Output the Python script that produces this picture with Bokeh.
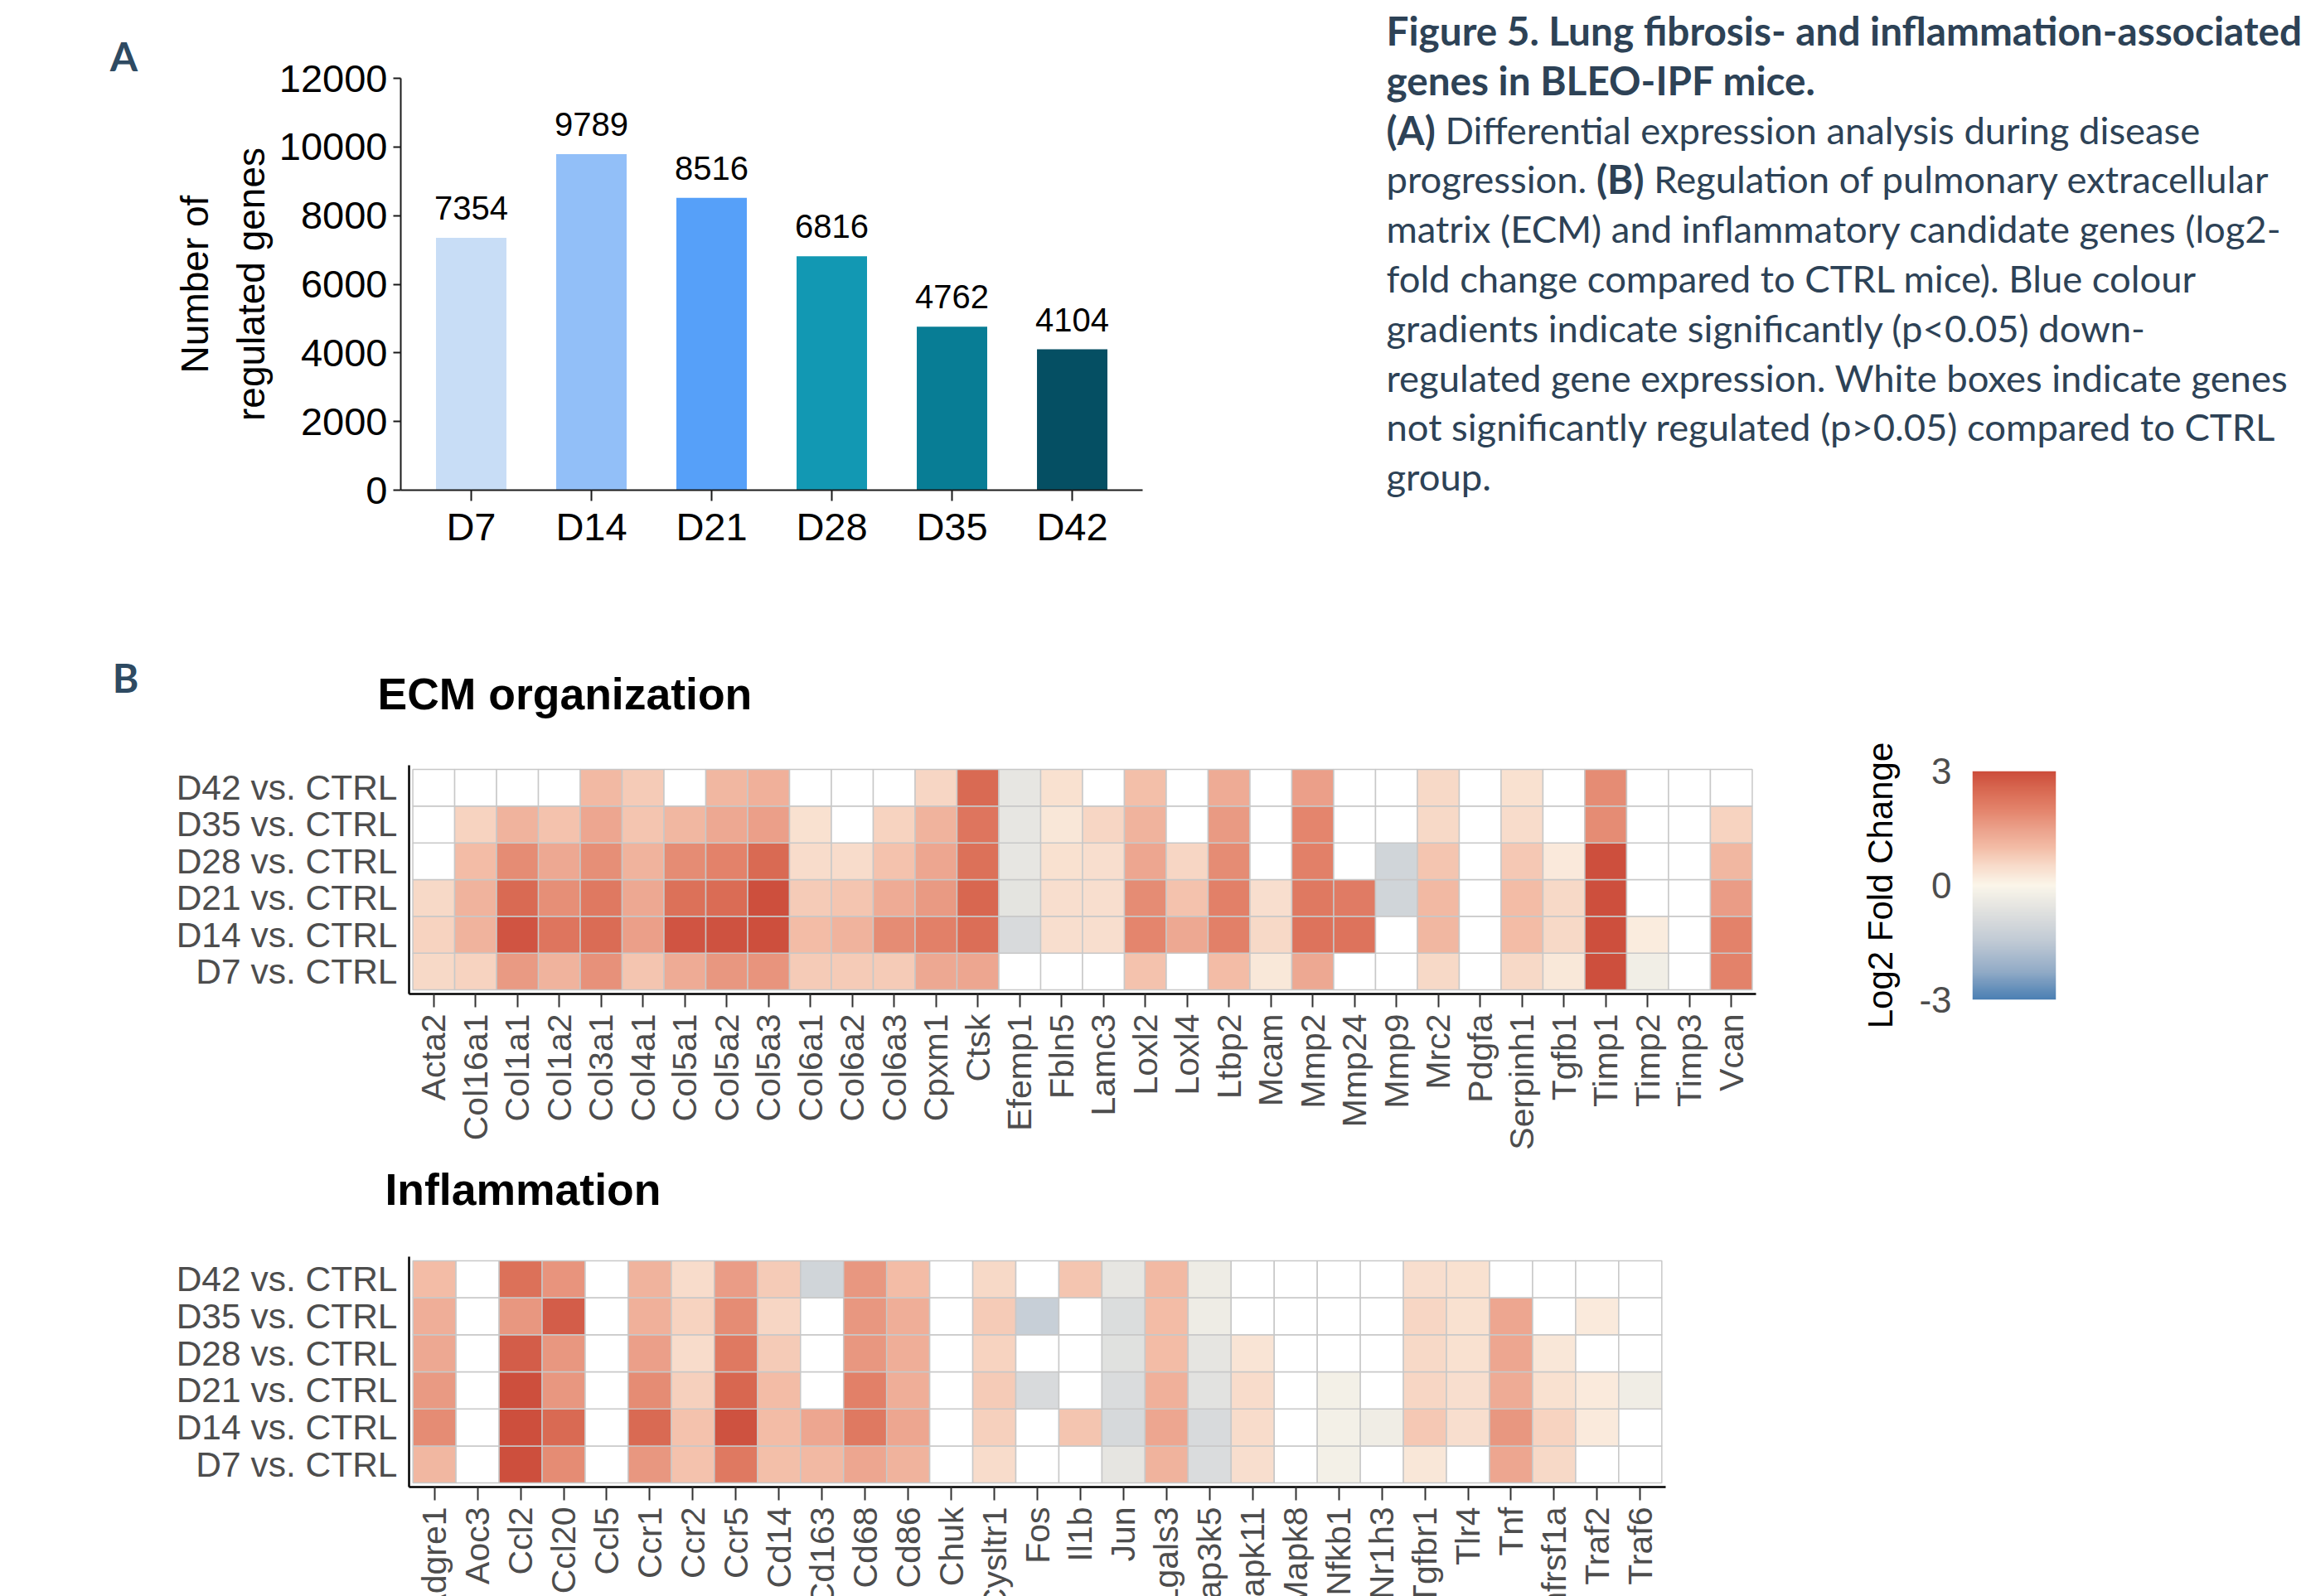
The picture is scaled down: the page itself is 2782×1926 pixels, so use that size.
import subprocess

import numpy as np
from bokeh.core.properties import value
from bokeh.embed import file_html
from bokeh.layouts import column, row
from bokeh.models import (ColumnDataSource, FactorRange, FixedTicker, Label,
                          LabelSet, LinearColorMapper, Range1d)
from bokeh.plotting import figure
from bokeh.resources import INLINE

N = None  # not significantly regulated (drawn as a white box)

# ---------------- Panel A: number of regulated genes ----------------
DAYS = ["D7", "D14", "D21", "D28", "D35", "D42"]
REGULATED_GENES = [7354, 9789, 8516, 6816, 4762, 4104]
BAR_COLORS = ["#c8ddf6", "#92bff8", "#56a0f9", "#1298b3", "#087d95", "#054f63"]
Y_TICKS = [0, 2000, 4000, 6000, 8000, 10000, 12000]

# ---------------- Panel B: log2 fold change heatmaps ----------------
COMPARISONS = ["D7 vs. CTRL", "D14 vs. CTRL", "D21 vs. CTRL",
               "D28 vs. CTRL", "D35 vs. CTRL", "D42 vs. CTRL"]

ECM_GENES = ["Acta2", "Col16a1", "Col1a1", "Col1a2", "Col3a1", "Col4a1", "Col5a1",
             "Col5a2", "Col5a3", "Col6a1", "Col6a2", "Col6a3", "Cpxm1", "Ctsk",
             "Efemp1", "Fbln5", "Lamc3", "Loxl2", "Loxl4", "Ltbp2", "Mcam", "Mmp2",
             "Mmp24", "Mmp9", "Mrc2", "Pdgfa", "Serpinh1", "Tgfb1", "Timp1", "Timp2",
             "Timp3", "Vcan"]
ECM_D42 = [N, N, N, N, 1.05, .75, N, 1.1, 1.2, N, N, N, .6, 2.5, -.5, .4,
           N, .95, N, 1.3, N, 1.5, N, N, .55, N, .4, N, 1.85, N, N, N]
ECM_D35 = [N, .65, 1.15, .9, 1.4, .85, 1.1, 1.35, 1.5, .4, N, .65, 1.15, 2.25, -.5, .3,
           .6, 1.15, N, 1.6, N, 1.95, N, N, .55, N, .5, N, 1.85, N, N, .65]
ECM_D28 = [N, 1.0, 1.85, 1.35, 1.8, 1.15, 1.85, 2.0, 2.5, .5, .5, .9, 1.4, 2.35, -.5, .4,
           .45, 1.4, .6, 1.85, N, 2.05, N, -1.1, .85, N, .8, .25, 2.95, N, N, 1.1]
ECM_D21 = [.55, 1.15, 2.5, 1.8, 2.2, 1.35, 2.35, 2.45, 2.95, .75, .85, 1.3, 1.6, 2.55, -.6, .45,
           .45, 1.85, .9, 2.05, .45, 2.2, 2.15, -1.1, 1.05, N, 1.0, .55, 2.95, N, N, 1.55]
ECM_D14 = [.65, 1.15, 2.85, 2.25, 2.45, 1.5, 2.85, 2.9, 2.95, 1.0, 1.15, 1.85, 2.05, 2.4, -.9, .45,
           .45, 1.95, 1.35, 2.05, .55, 2.3, 2.3, N, 1.1, N, 1.0, .55, 2.95, .2, N, 2.0]
ECM_D7 = [.55, .65, 1.6, 1.15, 1.75, .85, 1.3, 1.65, 1.7, .75, .75, .75, 1.35, 1.4, N, N,
          N, .9, N, 1.0, .28, 1.35, N, N, .55, N, .55, .28, 2.95, -.25, N, 2.0]

INF_GENES = ["Adgre1", "Aoc3", "Ccl2", "Ccl20", "Ccl5", "Ccr1", "Ccr2", "Ccr5", "Cd14",
             "Cd163", "Cd68", "Cd86", "Chuk", "Cysltr1", "Fos", "Il1b", "Jun", "Lgals3",
             "Map3k5", "Mapk11", "Mapk8", "Nfkb1", "Nr1h3", "Tgfbr1", "Tlr4", "Tnf",
             "Tnfrsf1a", "Traf2", "Traf6"]
INF_D42 = [1.0, N, 2.35, 1.7, N, 1.15, .5, 1.55, .75, -1.1, 1.65, 1.0, N, .55, N,
           .85, -.5, 1.05, -.35, N, N, N, N, .45, .4, N, N, N, N]
INF_D35 = [1.25, N, 1.65, 2.7, N, 1.2, .65, 1.85, .6, N, 1.65, 1.25, N, .75, -1.3,
           N, -.8, 1.0, -.35, N, N, N, N, .6, .4, 1.4, N, .22, N]
INF_D28 = [1.35, N, 2.7, 1.65, N, 1.5, .5, 2.2, .75, N, 1.65, 1.25, N, .65, N,
           N, -.7, 1.0, -.55, .35, N, N, N, .55, .4, 1.4, .3, N, N]
INF_D21 = [1.6, N, 2.95, 1.65, N, 1.85, .7, 2.55, 1.0, N, 2.05, 1.25, N, .75, -.9,
           N, -.85, 1.2, -.65, .5, N, -.2, N, .6, .45, 1.3, .4, .22, -.3]
INF_D14 = [1.85, N, 2.95, 2.5, N, 2.5, .9, 2.9, 1.0, 1.4, 2.2, 1.4, N, .7, N,
           .85, -.95, 1.4, -.9, .5, N, -.2, -.3, .8, .45, 1.65, .65, .22, N]
INF_D7 = [1.1, N, 2.95, 1.85, N, 1.65, .9, 2.2, .95, 1.05, 1.4, 1.15, N, .5, N,
          N, -.55, 1.15, -.85, .45, N, -.2, N, .3, N, 1.4, .55, N, N]

ECM_LFC = dict(zip(COMPARISONS, [ECM_D7, ECM_D14, ECM_D21, ECM_D28, ECM_D35, ECM_D42]))
INF_LFC = dict(zip(COMPARISONS, [INF_D7, INF_D14, INF_D21, INF_D28, INF_D35, INF_D42]))

CB_TICKS = [-3, 0, 3]

CAPTION = [
    [("Figure 5. Lung fibrosis- and inflammation-associated", True)],
    [("genes in BLEO-IPF mice.", True)],
    [("(A)", True), (" Differential expression analysis during disease", False)],
    [("progression. ", False), ("(B)", True), (" Regulation of pulmonary extracellular", False)],
    [("matrix (ECM) and inflammatory candidate genes (log2-", False)],
    [("fold change compared to CTRL mice). Blue colour", False)],
    [("gradients indicate significantly (p<0.05) down-", False)],
    [("regulated gene expression. White boxes indicate genes", False)],
    [("not significantly regulated (p>0.05) compared to CTRL", False)],
    [("group.", False)],
]

FONT = "Liberation Sans"
CAPTION_FONT = "Lato"
CAPTION_COLOR = "#2d4256"
PANEL_COLOR = "#2e4a62"
LABEL_GREY = "#4d4d4d"
LABEL_LIFT = 18  # baseline correction for free text labels, px

# ---------------- diverging colour scale (-3 .. 3) ----------------
COLOR_STOPS = [(-3.0, "#4a7fb3"), (-2.25, "#93acc7"), (-1.5, "#bfc9d4"), (-0.75, "#dedfde"),
               (0.0, "#fbf6ea"), (0.5, "#f8dccb"), (1.0, "#f3bca6"), (1.5, "#eba08a"),
               (2.0, "#e3836b"), (2.5, "#d96a53"), (3.0, "#cc4c3b")]


def _rgb(h):
    return np.array([int(h[i:i + 2], 16) for i in (1, 3, 5)], dtype=float)


def build_palette(n=256):
    xs = np.array([s for s, _ in COLOR_STOPS])
    cs = np.array([_rgb(c) for _, c in COLOR_STOPS])
    out = []
    for v in np.linspace(-3, 3, n):
        rgb = [np.interp(v, xs, cs[:, k]) for k in range(3)]
        out.append("#%02x%02x%02x" % tuple(int(round(c)) for c in rgb))
    return out


MAPPER = LinearColorMapper(palette=build_palette(), low=-3, high=3, nan_color="white")


def base_fig(**kw):
    p = figure(output_backend="svg", toolbar_location=None, tools="", **kw)
    if "frame_align" in p.properties():
        p.frame_align = False
    p.grid.visible = False
    p.outline_line_color = None
    p.background_fill_color = "white"
    p.border_fill_color = "white"
    return p


def text_strip(width, height):
    """A blank figure whose frame is the whole canvas, used to hold free text."""
    return base_fig(width=width, height=height, min_border=0, x_axis_location=None,
                    y_axis_location=None, x_range=Range1d(0, width), y_range=Range1d(0, height))


def put_text(p, text, x, y, size, font=FONT, bold=False, color="black", align="left"):
    p.add_layout(Label(x=x, y=y + LABEL_LIFT, x_units="screen", y_units="screen", text=text,
                       text_align=align, text_baseline="alphabetic", text_font=font,
                       text_font_size=size, text_font_style="bold" if bold else "normal",
                       text_color=color))


# ---------------- Panel A ----------------
strip_a = text_strip(183, 760)
put_text(strip_a, "A", 149, 760 - 85, "48px", CAPTION_FONT, True, PANEL_COLOR, "center")

bar_src = ColumnDataSource(dict(day=DAYS, n=REGULATED_GENES, color=BAR_COLORS,
                                label=[str(v) for v in REGULATED_GENES]))
pa = base_fig(x_range=FactorRange(*DAYS, range_padding=0.086, range_padding_units="absolute"),
              y_range=Range1d(0, 12000), frame_width=895, frame_height=497,
              min_border_left=300, min_border_right=182, min_border_top=94, min_border_bottom=169)
pa.vbar(x="day", top="n", width=0.586, fill_color="color", line_color=None, source=bar_src)
pa.add_layout(LabelSet(x="day", y="n", text="label", source=bar_src, y_offset=22,
                       text_align="center", text_baseline="bottom",
                       text_font=value(FONT), text_font_size=value("40px"), text_color="black"))
for ax in (pa.xaxis, pa.yaxis):
    ax.axis_line_color = "#1a1a1a"
    ax.axis_line_width = 2
    ax.major_tick_line_color = "#1a1a1a"
    ax.major_tick_line_width = 2
    ax.major_tick_in = 0
    ax.minor_tick_line_color = None
    ax.major_label_text_font = FONT
    ax.major_label_text_font_size = "47px"
    ax.major_label_text_color = "black"
pa.yaxis.ticker = FixedTicker(ticks=Y_TICKS)
pa.yaxis.major_tick_out = 9
pa.yaxis.major_label_standoff = 7
pa.yaxis.axis_label = "Number of\nregulated genes"
pa.yaxis.axis_label_text_font = FONT
pa.yaxis.axis_label_text_font_size = "46px"
pa.yaxis.axis_label_text_font_style = "normal"
pa.yaxis.axis_label_text_color = "black"
pa.yaxis.axis_label_text_line_height = 1.3
pa.yaxis.axis_label_standoff = 5
pa.xaxis.major_tick_out = 13
pa.xaxis.major_label_standoff = 4


# ---------------- caption ----------------
def _font_path(pattern):
    try:
        res = subprocess.run(["fc-match", "-f", "%{file}", pattern],
                             capture_output=True, text=True, timeout=10)
        return res.stdout.strip() or None
    except Exception:
        return None


_FONT_FILES = {False: _font_path(CAPTION_FONT + ":style=Regular"),
               True: _font_path(CAPTION_FONT + ":style=Bold")}


def text_width(s, bold, size):
    try:
        from PIL import ImageFont
        return ImageFont.truetype(_FONT_FILES[bold], 200).getlength(s) * size / 200.0
    except Exception:
        return len(s) * size * (0.53 if bold else 0.49)


def fit_size(s, bold, target):
    return round(target / text_width(s, bold, 100.0) * 100.0, 1)


REG_SIZE = fit_size(CAPTION[7][0][0], False, 1087)
BOLD_SIZE = fit_size(CAPTION[0][0][0], True, 1105)

pcap = text_strip(1222, 760)
for i, segments in enumerate(CAPTION):
    x = 112.0
    y = 760 - (54 + 59.8 * i)
    for txt, bold in segments:
        size = BOLD_SIZE if bold else REG_SIZE
        lead = len(txt) - len(txt.lstrip(" "))
        x += text_width(" " * lead, bold, size) if lead else 0
        body = txt.strip(" ")
        put_text(pcap, body, x, y, "%.1fpx" % size, CAPTION_FONT, bold, CAPTION_COLOR)
        x += text_width(body, bold, size)
        trail = len(txt) - len(txt.rstrip(" "))
        x += text_width(" " * trail, bold, size) if trail else 0


# ---------------- heatmaps ----------------
def heatmap(genes, lfc, frame_w, frame_h, top, bottom, right, gene_names=True):
    gene_col, comp_col, val_col = [], [], []
    for comp in COMPARISONS:
        for g, v in zip(genes, lfc[comp]):
            gene_col.append(g)
            comp_col.append(comp)
            val_col.append(np.nan if v is None else v)
    src = ColumnDataSource(dict(gene=gene_col, comp=comp_col, lfc=np.array(val_col, dtype=float)))
    p = base_fig(x_range=FactorRange(*genes, range_padding=0.09, range_padding_units="absolute"),
                 y_range=FactorRange(*COMPARISONS, range_padding=0.11, range_padding_units="absolute"),
                 frame_width=frame_w, frame_height=frame_h, min_border_left=493,
                 min_border_right=right, min_border_top=top, min_border_bottom=bottom)
    p.rect(x="gene", y="comp", width=1, height=1, source=src,
           fill_color={"field": "lfc", "transform": MAPPER},
           line_color="#c8c8c8", line_width=1.5)
    for ax in (p.xaxis, p.yaxis):
        ax.axis_line_color = "black"
        ax.axis_line_width = 2.5
        ax.minor_tick_line_color = None
        ax.major_label_text_font = FONT
        ax.major_label_text_color = LABEL_GREY
    p.yaxis.major_label_text_font_size = "42.5px"
    p.xaxis.major_label_text_font_size = "41px"
    p.yaxis.major_tick_line_color = None
    p.yaxis.major_tick_out = 0
    p.yaxis.major_tick_in = 0
    p.yaxis.major_label_standoff = 14
    p.xaxis.major_tick_line_color = "#333333"
    p.xaxis.major_tick_line_width = 2
    p.xaxis.major_tick_out = 16
    p.xaxis.major_tick_in = 0
    p.xaxis.major_label_standoff = 8
    p.xaxis.major_label_orientation = np.pi / 2
    if not gene_names:
        # names go into a strip below so that they can run off the page edge
        p.xaxis.major_label_text_color = None
    return p


# "B" and the ECM title
strip_b = text_strip(2150, 150)
put_text(strip_b, "B", 151, 150 - 75, "48px", CAPTION_FONT, True, PANEL_COLOR, "center")
put_text(strip_b, "ECM organization", 455, 150 - 95, "53.5px", bold=True)

pecm = heatmap(ECM_GENES, ECM_LFC, 1625, 276, top=13, bottom=196, right=32)

# ---------------- colour bar ----------------
gradient = np.linspace(-3, 3, 256).reshape(256, 1)
pcb = base_fig(x_range=Range1d(0, 1), y_range=Range1d(-3, 3), frame_width=101, frame_height=276,
               min_border_left=229, min_border_right=302, min_border_top=170,
               min_border_bottom=189, x_axis_location=None)
pcb.image(image=[gradient], x=0, y=-3, dw=1, dh=6, color_mapper=MAPPER)
pcb.yaxis.ticker = FixedTicker(ticks=CB_TICKS)
pcb.yaxis.major_label_overrides = {t: str(t) for t in CB_TICKS}
pcb.yaxis.axis_line_color = None
pcb.yaxis.major_tick_line_color = None
pcb.yaxis.minor_tick_line_color = None
pcb.yaxis.major_tick_out = 0
pcb.yaxis.major_label_standoff = 25
pcb.yaxis.major_label_text_font = FONT
pcb.yaxis.major_label_text_font_size = "44px"
pcb.yaxis.major_label_text_color = LABEL_GREY
pcb.yaxis.axis_label = "Log2 Fold Change"
pcb.yaxis.axis_label_text_font = FONT
pcb.yaxis.axis_label_text_font_size = "42px"
pcb.yaxis.axis_label_text_font_style = "normal"
pcb.yaxis.axis_label_text_color = "black"
pcb.yaxis.axis_label_standoff = 20

# Inflammation title, heatmap and its gene names
strip_i = text_strip(2782, 105)
put_text(strip_i, "Inflammation", 464, 105 - 58, "53.5px", bold=True)

pinf = heatmap(INF_GENES, INF_LFC, 1516, 278, top=16, bottom=24, right=773, gene_names=False)

names_src = ColumnDataSource(dict(gene=INF_GENES))
pnames = base_fig(x_range=pinf.x_range, y_range=Range1d(0, 108), frame_width=1516,
                  frame_height=108, min_border_left=493, min_border_right=773,
                  min_border_top=0, min_border_bottom=0,
                  x_axis_location=None, y_axis_location=None)
pnames.text(x="gene", y=108, text="gene", source=names_src, angle=np.pi / 2,
            text_align="right", text_baseline="middle", text_font=value(FONT),
            text_font_size=value("41px"), text_color=LABEL_GREY)

page = column(row(strip_a, pa, pcap), row(column(strip_b, pecm), pcb), strip_i, pinf, pnames)

with open("out.html", "w") as f:
    f.write(file_html(page, INLINE))
